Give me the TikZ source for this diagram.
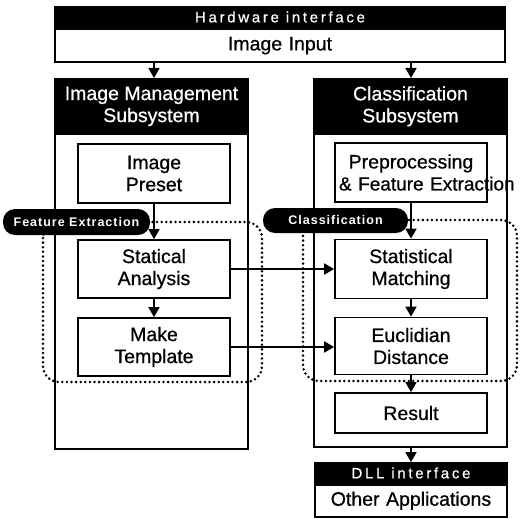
\documentclass[tikz,border=0pt]{standalone}
\usepackage{fontspec}
\setmainfont{Liberation Sans}[UprightFeatures={FakeBold=0.7}]
\usepackage{tikz}
\usetikzlibrary{arrows.meta,positioning}

\begin{document}
\begin{tikzpicture}[x=1pt,y=-1pt,
    box/.style={draw=black, line width=1.7pt, fill=white, minimum width=152pt, inner sep=4pt, text width=144pt, align=center, font=\bigfont},
    header/.style={draw=black, fill=black, line width=1.7pt, text=white, align=center, inner sep=0pt},
    frame/.style={draw=black, line width=1.7pt, minimum width=193pt, inner sep=0pt},
    pill/.style={fill=black, rounded corners=12pt, text=white, inner sep=0pt, font=\fontsize{12.5}{14}\selectfont\bfseries\addfontfeature{LetterSpace=8}},
    region/.style={draw=black, line width=2.8pt, line cap=round, dash pattern=on 0pt off 4.6pt, rounded corners=16pt},
    flow/.style={line width=1.7pt, -{Triangle[width=11pt,length=10pt]}}
    ]
    \useasboundingbox (0,0) rectangle (520,519);
    \def\bigfont{\fontsize{19.5}{22}\selectfont}
    \def\smallcaps{\fontsize{15}{17}\selectfont\addfontfeature{LetterSpace=18}}

    % top interface
    \node[header, minimum width=450pt, minimum height=21pt, font=\smallcaps] (hwhead) at (280,17) {Hardware interface};
    \node[box, minimum width=450pt, text width=440pt, minimum height=33pt, anchor=north] (input) at (hwhead.south) {Image Input};

    % the two subsystems
    \node[frame, minimum height=370pt, anchor=north] (imsframe) at (151.5,78) {};
    \node[header, minimum width=193pt, minimum height=55pt, anchor=north, font=\bigfont] (imshead) at (imsframe.north) {Image Management\\Subsystem};
    \node[frame, minimum height=368pt, anchor=north] (clsframe) at (410.5,78) {};
    \node[header, minimum width=193pt, minimum height=55pt, anchor=north, font=\bigfont] (clshead) at (clsframe.north) {Classification\\Subsystem};

    % dotted groups
    \draw[region] (43,222) rectangle (262,382);
    \draw[region] (303,220) rectangle (517,381);
    \node[pill, minimum width=147pt, minimum height=26pt] (featlbl) at (76.5,222) {Feature Extraction};
    \node[pill, minimum width=145pt, minimum height=25pt] (clslbl) at (335.5,220.5) {Classification};

    \node[box, minimum height=59pt] (preset) at (154,173.5) {Image\\Preset};
    \node[box, minimum height=58pt] (stat) at (154,269) {Statical\\Analysis};
    \node[box, minimum height=58pt] (templ) at (154,347) {Make\\Template};

    \node[box, minimum height=59pt] (prep) at (411,172.5) {Preprocessing\\\mbox{\fontsize{19}{22}\selectfont\& Feature Extraction}};
    \node[box, minimum height=59pt] (match) at (411,269) {Statistical\\Matching};
    \node[box, minimum height=57pt] (eucl) at (411,346) {Euclidian\\Distance};
    \node[box, minimum height=40pt] (result) at (411,413) {Result};

    % output interface
    \node[header, minimum width=192pt, minimum height=20pt, font=\smallcaps] (dllhead) at (411,473) {DLL interface};
    \node[box, minimum width=192pt, text width=184pt, minimum height=32pt, anchor=north] (apps) at (dllhead.south) {Other Applications};

    \draw[flow] (input.south -| preset) -- (preset |- imshead.north);
    \draw[flow] (input.south -| prep) -- (prep |- clshead.north);
    \foreach \a/\b in {preset/stat, stat/templ, prep/match, match/eucl, eucl/result}
        \draw[flow] (\a) -- (\b);
    \draw[flow] (stat.east) -- (stat.east -| match.west);
    \draw[flow] (templ.east) -- (templ.east -| eucl.west);
    \draw[flow] (clsframe.south -| result) -- (result |- dllhead.north);
\end{tikzpicture}
\end{document}
